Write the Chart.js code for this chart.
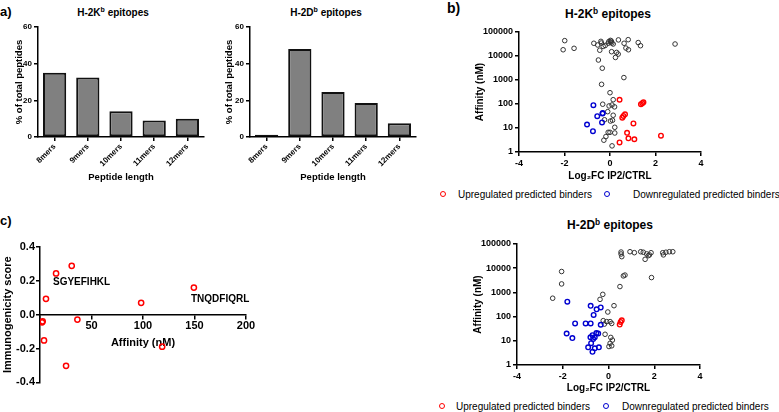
<!DOCTYPE html>
<html>
<head>
<meta charset="utf-8">
<script src="https://cdn.jsdelivr.net/npm/chart.js@4.4.1/dist/chart.umd.min.js"></script>
<style>
  body { margin:0; background:#fff; width:779px; height:412px; position:relative; overflow:hidden;
         font-family:"Liberation Sans", Arial, sans-serif; color:#000; }
  canvas { position:absolute; }
  .txt { position:absolute; white-space:nowrap; }
  .letter { font-weight:bold; transform:translateY(-50%); }
  .title { font-weight:bold; transform:translate(-50%,-50%); }
  .title sup { font-size:70%; line-height:0; vertical-align:0.45em; }
  .legend { font-size:10px; transform:translateY(-50%); }
  .dot { position:absolute; width:4px; height:4px; border-radius:50%; border:1.4px solid; transform:translate(-50%,-50%); }
</style>
</head>
<body>
<div class="txt letter" style="left:0px;top:11px;font-size:13px">a)</div>
<div class="txt letter" style="left:447px;top:8px;font-size:14px">b)</div>
<div class="txt letter" style="left:0px;top:220px;font-size:13px">c)</div>

<div class="txt title" style="left:113px;top:12px;font-size:10px">H-2K<sup>b</sup> epitopes</div>
<div class="txt title" style="left:326px;top:12px;font-size:10px">H-2D<sup>b</sup> epitopes</div>
<div class="txt title" style="left:608px;top:14px;font-size:12px">H-2K<sup>b</sup> epitopes</div>
<div class="txt title" style="left:610px;top:225px;font-size:12px">H-2D<sup>b</sup> epitopes</div>

<div class="dot" style="left:443px;top:194px;border-color:#f00"></div>
<div class="txt legend" style="left:458px;top:194px">Upregulated predicted binders</div>
<div class="dot" style="left:607px;top:194px;border-color:#0000d0"></div>
<div class="txt legend" style="left:633px;top:194px">Downregulated predicted binders</div>
<div class="dot" style="left:442px;top:406px;border-color:#f00"></div>
<div class="txt legend" style="left:456px;top:406px">Upregulated predicted binders</div>
<div class="dot" style="left:606px;top:406px;border-color:#0000d0"></div>
<div class="txt legend" style="left:622px;top:406px">Downregulated predicted binders</div>

<script>
'use strict';

// ********** DATA **********

const lengthLabels = ['8mers', '9mers', '10mers', '11mers', '12mers'];
const kbLengthPct = [35, 32.5, 14, 9, 10];
const dbLengthPct = [1.2, 48, 24.5, 18.5, 7.5];
const pctTicks = [0, 20, 40, 60];

const fcTicks = [-4, -2, 0, 2, 4];
const affinityTicks = [1, 10, 100, 1000, 10000, 100000];

// [log2FC IP2/CTRL, affinity nM]
const kbOther = [
  [-1.99, 43600], [-2.06, 18200], [-1.58, 20900], [-0.71, 33900], [-0.54, 28800],
  [-0.40, 40700], [-0.38, 34700], [-0.30, 25100], [-0.45, 17400], [-0.21, 27500],
  [-0.08, 33900], [0.02, 44700], [0.08, 34700], [0.14, 31600], [0.37, 46800],
  [0.03, 38000], [-0.05, 40000], [0.06, 41700],
  [0.07, 15100], [0.29, 14100], [0.36, 12000], [0.24, 8700], [0.62, 33900],
  [0.70, 21400], [0.80, 47900], [0.81, 18200], [1.24, 36300], [1.34, 26900],
  [2.86, 31600], [-0.51, 6800], [-0.34, 3100], [0.61, 1260], [-0.37, 660],
  [0.00, 295], [0.14, 151], [-0.32, 98], [-0.04, 83], [0.09, 91], [0.20, 76],
  [-0.10, 48], [0.14, 34], [-0.24, 22], [0.11, 21], [0.02, 19.5], [0.21, 10.7],
  [-0.08, 6.6], [0.00, 6.6], [0.21, 6.2], [-0.18, 4.4], [-0.27, 3.1], [0.09, 1.8]
];
const kbUp = [
  [0.42, 150], [1.36, 98], [1.47, 118], [1.42, 108], [0.59, 32], [0.66, 37],
  [0.54, 27], [1.03, 15.5], [0.75, 6.3], [0.81, 3.7], [1.07, 3.4], [2.24, 4.8], [0.42, 2.5]
];
const kbDown = [
  [-0.73, 89], [-0.32, 42], [-0.33, 40], [-0.56, 31], [-0.35, 17], [-1.01, 14], [-0.75, 7.4]
];

const dbOther = [
  [-2.44, 575], [-2.05, 2240], [-2.05, 7300], [-0.25, 830], [-0.37, 515], [0.24, 282],
  [-0.03, 155], [-0.23, 68], [-0.08, 62], [0.07, 62], [-0.18, 49], [0.14, 52],
  [-0.15, 18.6], [0.10, 13.8], [0.17, 10.7], [0.02, 5.8], [0.14, 6.2], [0.07, 7.9],
  [0.55, 46500], [0.55, 38600], [0.58, 30000], [0.94, 48000], [1.13, 43800],
  [1.41, 47900], [1.52, 45700], [1.67, 38900], [1.74, 33000], [1.60, 23300],
  [1.86, 43600], [1.79, 35500], [2.37, 43600], [2.40, 35500], [2.51, 45700],
  [2.66, 47900], [2.81, 47900], [0.65, 4800], [0.72, 5200], [0.50, 1740], [1.88, 4100]
];
const dbUp = [[0.58, 70], [0.53, 60], [0.49, 47]];
const dbDown = [
  [-1.80, 415], [-0.78, 280], [-0.34, 240], [-0.52, 200], [-0.65, 117], [-1.46, 52],
  [-1.00, 52], [-0.78, 52], [-0.34, 46], [-1.83, 20], [-1.58, 13], [-0.53, 21],
  [-0.45, 20], [-0.70, 17], [-0.60, 14], [-0.79, 14], [-0.67, 12], [-0.76, 8],
  [-0.89, 5.4], [-0.42, 5.4], [-0.60, 4.9], [-0.70, 3.5]
];

// panel c: [affinity nM, immunogenicity score]
const immunoPoints = [
  [15.6, 0.244], [30.8, 0.289], [5.8, 0.094], [2.6, -0.039], [2.0, -0.045],
  [3.9, -0.152], [36.3, -0.029], [25.3, -0.302], [98.2, 0.07], [118.6, -0.189], [149.4, 0.16]
];
const affinityLinTicks = [0, 50, 100, 150, 200];
const scoreTicks = [-0.4, -0.2, 0, 0.2, 0.4];
const peptideLabels = [
  { text: 'SGYEFIHKL', x: 12.6, y: 0.19 },
  { text: 'TNQDFIQRL', x: 146.6, y: 0.094 }
];

// ********** HELPER FUNCTIONS **********

Chart.defaults.font.family = '"Liberation Sans", Arial, sans-serif';
Chart.defaults.color = '#000';

function makeCanvas(left, top, w, h) {
  let c = document.createElement('canvas');
  c.width = w;
  c.height = h;
  c.style.left = left + 'px';
  c.style.top = top + 'px';
  document.body.appendChild(c);
  return c;
}

function axisLines(tickLen) {
  return {
    grid: { drawOnChartArea: false, tickLength: tickLen, color: '#000', lineWidth: 1.5 },
    border: { color: '#000', width: 1.5 }
  };
}

function toPoints(arr) {
  return arr.map(p => ({ x: p[0], y: p[1] }));
}

// bar chart of peptide lengths
function lengthChart(left, values, yTitleX) {
  let canvas = makeCanvas(left, 0, 210, 190);
  new Chart(canvas, {
    type: 'bar',
    data: {
      labels: lengthLabels,
      datasets: [{
        data: values,
        backgroundColor: '#808080',
        borderColor: '#111',
        borderWidth: 2,
        borderSkipped: false,
        barPercentage: 0.7,
        categoryPercentage: 1
      }]
    },
    options: {
      responsive: false,
      animation: false,
      layout: { padding: { top: 27, left: 0, right: 6, bottom: 0 } },
      plugins: { legend: { display: false }, tooltip: { enabled: false } },
      scales: {
        x: {
          ...axisLines(4),
          grid: { drawOnChartArea: false, offset: false, tickLength: 4, color: '#000', lineWidth: 1.5 },
          ticks: { font: { size: 8, weight: 'bold' }, maxRotation: 45, minRotation: 45, padding: 1 },
          title: { display: true, text: 'Peptide length', font: { size: 9.5, weight: 'bold' }, padding: { top: 0, bottom: 7 } },
          afterFit: s => { s.height = 53; }
        },
        y: {
          ...axisLines(4),
          min: 0,
          max: 60,
          afterBuildTicks: s => { s.ticks = pctTicks.map(v => ({ value: v })); },
          ticks: { font: { size: 8, weight: 'bold' }, padding: 2 },
          title: { display: true, text: '% of total peptides', font: { size: 9.5, weight: 'bold' }, padding: { top: yTitleX - 5.7, bottom: 0 } },
          afterFit: s => { s.width = 38; }
        }
      }
    }
  });
}

// volcano-like scatter of fold change vs affinity
function fcChart(left, top, other, up, down, g) {
  let canvas = makeCanvas(left, top, 270, 170);
  new Chart(canvas, {
    type: 'scatter',
    data: {
      datasets: [
        { data: toPoints(up), borderColor: '#f00', borderWidth: 1.4, pointRadius: 2.3, backgroundColor: 'rgba(0,0,0,0)' },
        { data: toPoints(down), borderColor: '#0000d0', borderWidth: 1.4, pointRadius: 2.3, backgroundColor: 'rgba(0,0,0,0)' },
        { data: toPoints(other), borderColor: '#333', borderWidth: 1, pointRadius: 2.3, backgroundColor: 'rgba(0,0,0,0)' }
      ]
    },
    options: {
      responsive: false,
      animation: false,
      layout: { padding: { top: 12, left: 0, right: g.right, bottom: 0 } },
      plugins: { legend: { display: false }, tooltip: { enabled: false } },
      scales: {
        x: {
          ...axisLines(4),
          min: -4,
          max: 4,
          afterBuildTicks: s => { s.ticks = fcTicks.map(v => ({ value: v })); },
          ticks: { font: { size: 9, weight: 'bold' }, padding: 2 },
          title: { display: true, text: 'Log\u2082FC IP2/CTRL', font: { size: 10, weight: 'bold' }, padding: { top: 0, bottom: 8 } },
          afterFit: s => { s.height = g.xh; }
        },
        y: {
          ...axisLines(4),
          type: 'logarithmic',
          min: 1,
          max: 100000,
          afterBuildTicks: s => { s.ticks = affinityTicks.map(v => ({ value: v })); },
          ticks: { font: { size: 9, weight: 'bold' }, padding: 2, callback: v => String(v) },
          title: { display: true, text: 'Affinity (nM)', font: { size: 10, weight: 'bold' }, padding: { top: g.titlePad, bottom: 0 } },
          afterFit: s => { s.width = g.yw; }
        }
      }
    }
  });
}

// draw peptide names next to their points
const peptideLabelPlugin = {
  id: 'peptideLabels',
  afterDatasetsDraw(chart) {
    let ctx = chart.ctx;
    let xs = chart.scales.x;
    let ys = chart.scales.y;
    ctx.save();
    ctx.font = 'bold 10px "Liberation Sans", Arial, sans-serif';
    ctx.fillStyle = '#000';
    ctx.textBaseline = 'middle';
    peptideLabels.forEach(l => ctx.fillText(l.text, xs.getPixelForValue(l.x), ys.getPixelForValue(l.y)));
    ctx.restore();
  }
};

function immunoChart() {
  let canvas = makeCanvas(0, 230, 260, 160);
  new Chart(canvas, {
    type: 'scatter',
    data: {
      datasets: [{ data: toPoints(immunoPoints), borderColor: '#f00', borderWidth: 1.5, pointRadius: 2.6, backgroundColor: 'rgba(0,0,0,0)' }]
    },
    plugins: [peptideLabelPlugin],
    options: {
      responsive: false,
      animation: false,
      layout: { padding: { top: 17, left: 0, right: 14, bottom: 7 } },
      plugins: { legend: { display: false }, tooltip: { enabled: false } },
      scales: {
        x: {
          ...axisLines(4),
          position: { y: 0 },
          min: 0,
          max: 200,
          afterBuildTicks: s => { s.ticks = affinityLinTicks.map(v => ({ value: v })); },
          ticks: { font: { size: 11, weight: 'bold' }, padding: 1, callback: v => (v === 0 ? '' : String(v)) },
          title: { display: true, text: 'Affinity (nM)', font: { size: 11, weight: 'bold' }, padding: { top: 0, bottom: 1.4 } },
          afterFit: s => { s.height = 36; }
        },
        y: {
          ...axisLines(4),
          min: -0.4,
          max: 0.4,
          afterBuildTicks: s => { s.ticks = scoreTicks.map(v => ({ value: v })); },
          ticks: { font: { size: 11, weight: 'bold' }, padding: 1, callback: v => v.toFixed(1) },
          title: { display: true, text: 'Immunogenicity score', font: { size: 11, weight: 'bold' }, padding: { top: 1, bottom: 0 } },
          afterFit: s => { s.width = 40; }
        }
      }
    }
  });
}

// ********** EXECUTABLE **********

lengthChart(0, kbLengthPct, 19);
lengthChart(212, dbLengthPct, 17);
fcChart(450, 20, kbOther, kbUp, kbDown, { right: 19, xh: 38, yw: 69, titlePad: 24 });
fcChart(450, 232, dbOther, dbUp, dbDown, { right: 20, xh: 37, yw: 67, titlePad: 22 });
immunoChart();
</script>
</body>
</html>
